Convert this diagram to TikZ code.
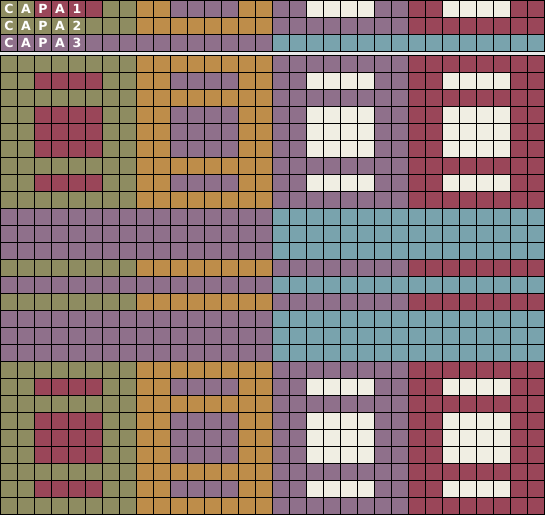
\documentclass[tikz,border=0pt]{standalone}
\usepackage{fontspec}
\setsansfont{DejaVu Sans}
\definecolor{capaolive}{HTML}{8E8C61}
\definecolor{capawine}{HTML}{9A4659}
\definecolor{capaochre}{HTML}{BE8D4A}
\definecolor{capamauve}{HTML}{8F708B}
\definecolor{capacream}{HTML}{F0EEE3}
\definecolor{capateal}{HTML}{79A3AD}
\definecolor{gapgray}{HTML}{E8E8E8}

\tikzset{
  solidrow/.pic={
    \fill[capaolive] (0,0) rectangle (8,1);
    \fill[capaochre] (8,0) rectangle (16,1);
    \fill[capamauve] (16,0) rectangle (24,1);
    \fill[capawine]  (24,0) rectangle (32,1);
  },
  patrow/.pic={
    \pic {solidrow};
    \fill[capawine]  (2,0) rectangle (6,1);
    \fill[capamauve] (10,0) rectangle (14,1);
    \fill[capacream] (18,0) rectangle (22,1);
    \fill[capacream] (26,0) rectangle (30,1);
  },
  bandrow/.pic={
    \fill[capamauve] (0,0) rectangle (16,1);
    \fill[capateal]  (16,0) rectangle (32,1);
  }
}

\begin{document}
\begin{tikzpicture}[x=0.5cm, y=-0.5cm,
    gridline/.style={black, line width=1.3pt, line cap=rect},
    letter/.style={font=\sffamily\bfseries\fontsize{10.5}{10.5}\selectfont,
      text=white, inner sep=0pt}
  ]
  \fill[gapgray] (-0.03,-0.03) rectangle (32.03,30.265);
  \useasboundingbox (-0.03,-0.03) rectangle (32.03,30.265);

  % layer rows
  \pic at (0,0) {patrow};
  \pic at (0,1) {solidrow};
  \pic at (0,2) {bandrow};
  \foreach \r in {0,1,2} {
    \foreach \ch [count=\c from 0] in {C,A,P,A} {
      \node[letter] (capa\r-\c) at (\c+0.5,\r+0.5) {\ch};
    }
    \pgfmathtruncatemacro{\num}{\r+1}
    \node[letter] (capa\r-4) at (4.5,\r+0.5) {\num};
  }
  \foreach \c in {0,...,32} \draw[gridline] (\c,0) -- (\c,3);
  \foreach \r in {0,...,3} \draw[gridline] (0,\r) -- (32,\r);

  % main block
  \begin{scope}[shift={(0,3.235)}]
    \foreach \r in {0,2,6,8,12,14,18,20,24,26} \pic at (0,\r) {solidrow};
    \foreach \r in {1,3,4,5,7,19,21,22,23,25} \pic at (0,\r) {patrow};
    \foreach \r in {9,10,11,13,15,16,17} \pic at (0,\r) {bandrow};
    \foreach \c in {0,...,32} \draw[gridline] (\c,0) -- (\c,27);
    \foreach \r in {0,...,27} \draw[gridline] (0,\r) -- (32,\r);
  \end{scope}
\end{tikzpicture}
\end{document}
